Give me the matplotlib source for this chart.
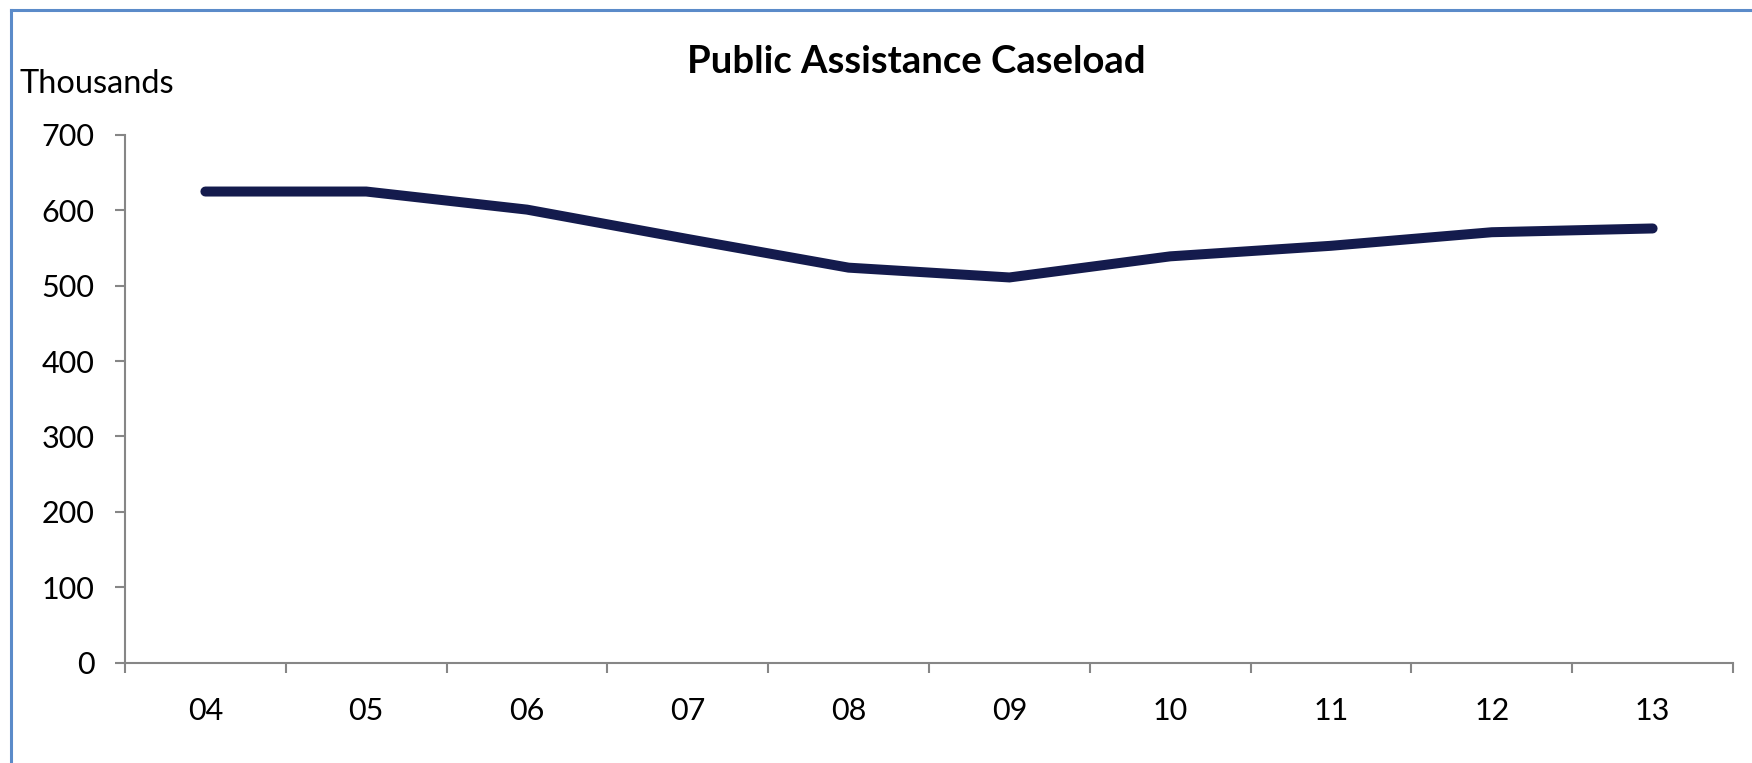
import numpy as np
import matplotlib.pyplot as plt
from matplotlib.lines import Line2D

# caseload by fiscal year, in thousands
years = ["04", "05", "06", "07", "08", "09", "10", "11", "12", "13"]
caseload = [625, 625, 601, 562, 524, 511, 539, 553, 571, 576]

W, H, DPI = 1752, 763, 100
plt.rcParams['font.family'] = ['Lato', 'DejaVu Sans']

fig = plt.figure(figsize=(W / DPI, H / DPI), dpi=DPI)
ax = fig.add_axes([125 / W, 1 - 662.6 / H, (1733 - 125) / W, (662.6 - 135) / H])

x = np.arange(len(years))
ax.plot(x, caseload, color="#141b4d", lw=7.2, solid_capstyle="round",
        solid_joinstyle="miter")

ax.set_xlim(-0.5, len(years) - 0.5)
ax.set_ylim(0, 700)
ax.set_yticks(range(0, 701, 100))

# category labels centred, tick marks between categories
ax.set_xticks(x)
ax.set_xticklabels(years)
ax.set_xticks(np.arange(-0.5, len(years)), minor=True)
ax.tick_params(axis="x", which="major", length=0, pad=25, labelsize=22)
ax.tick_params(axis="x", which="minor", length=7, width=1.5, color="#868686",
               direction="out")
ax.tick_params(axis="y", length=7, width=1.5, color="#868686", pad=15,
               labelsize=22)

for side in ["top", "right"]:
    ax.spines[side].set_visible(False)
for side in ["left", "bottom"]:
    ax.spines[side].set_color("#868686")
    ax.spines[side].set_linewidth(1.5)

fig.text(916 / W, 1 - 62 / H, "Public Assistance Caseload", ha="center",
         va="center", fontsize=27.5, fontweight="bold")
fig.text(20 / W, 1 - 84 / H, "Thousands", ha="left", va="center", fontsize=23.5)

# chart frame on the left and top edges
fig.add_artist(Line2D([11 / W, 11 / W], [0, 1 - 10 / H], transform=fig.transFigure,
                      color="#5b8bc9", lw=2.2))
fig.add_artist(Line2D([11 / W, 1], [1 - 10 / H, 1 - 10 / H], transform=fig.transFigure,
                      color="#5b8bc9", lw=2.2))

fig.savefig("out.png", dpi=DPI)
